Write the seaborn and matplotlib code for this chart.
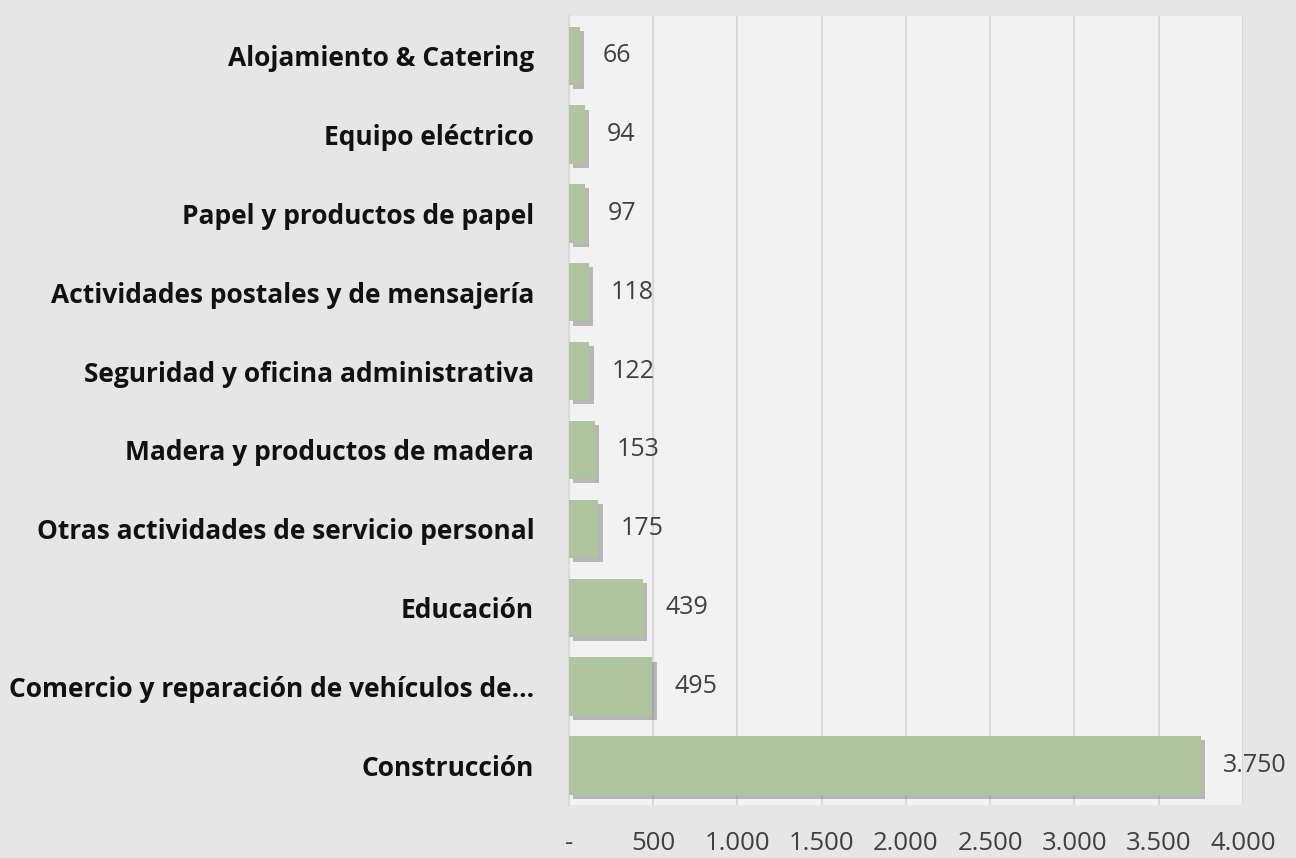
import pandas as pd
import matplotlib.pyplot as plt
import matplotlib.patheffects as pe
import seaborn as sns

# data
sectors = ['Alojamiento & Catering', 'Equipo eléctrico', 'Papel y productos de papel',
           'Actividades postales y de mensajería', 'Seguridad y oficina administrativa',
           'Madera y productos de madera', 'Otras actividades de servicio personal',
           'Educación', 'Comercio y reparación de vehículos de...', 'Construcción']
values = [66, 94, 97, 118, 122, 153, 175, 439, 495, 3750]
xticks = [0, 500, 1000, 1500, 2000, 2500, 3000, 3500, 4000]
xtick_labels = ['-', '500', '1.000', '1.500', '2.000', '2.500', '3.000', '3.500', '4.000']

df = pd.DataFrame({'sector': sectors, 'value': values})

sns.set_style('white')
plt.rcParams['font.family'] = ['Open Sans', 'DejaVu Sans']

fig = plt.figure(figsize=(12.96, 8.58), dpi=100, facecolor='#e6e6e6')
ax = fig.add_axes([0.439, 0.062, 0.52, 0.919])
ax.set_facecolor('#f2f2f2')

sns.barplot(data=df, x='value', y='sector', orient='h', color='#b0c4a0',
            saturation=1, width=0.74, linewidth=0, ax=ax, zorder=3)

for bar in ax.patches:
    bar.set_path_effects([pe.SimplePatchShadow(offset=(3, -3), shadow_rgbFace='#6f6f6f', alpha=0.45),
                          pe.Normal()])

for i, v in enumerate(values):
    ax.annotate(f'{v:,}'.replace(',', '.'), xy=(v, i), xytext=(16, 0),
                textcoords='offset points', va='center', ha='left',
                fontsize=18, color='#404040', annotation_clip=False)

ax.set_xlim(0, 4000)
ax.set_xticks(xticks)
ax.set_xticklabels(xtick_labels, fontsize=18.5, color='#404040')
ax.tick_params(axis='x', length=0, pad=19)
ax.tick_params(axis='y', length=0, pad=25)
for lab in ax.get_yticklabels():
    lab.set_fontsize(19)
    lab.set_fontweight('bold')
    lab.set_color('#111111')
ax.xaxis.grid(True, color='#d9d9d9', linewidth=1.5, zorder=0)
ax.set_axisbelow(True)
ax.set_xlabel('')
ax.set_ylabel('')
for s in ['top', 'right', 'bottom']:
    ax.spines[s].set_visible(False)
ax.spines['left'].set_color('#d9d9d9')
ax.spines['left'].set_linewidth(1.5)

fig.savefig('out.png', dpi=100, facecolor=fig.get_facecolor())
